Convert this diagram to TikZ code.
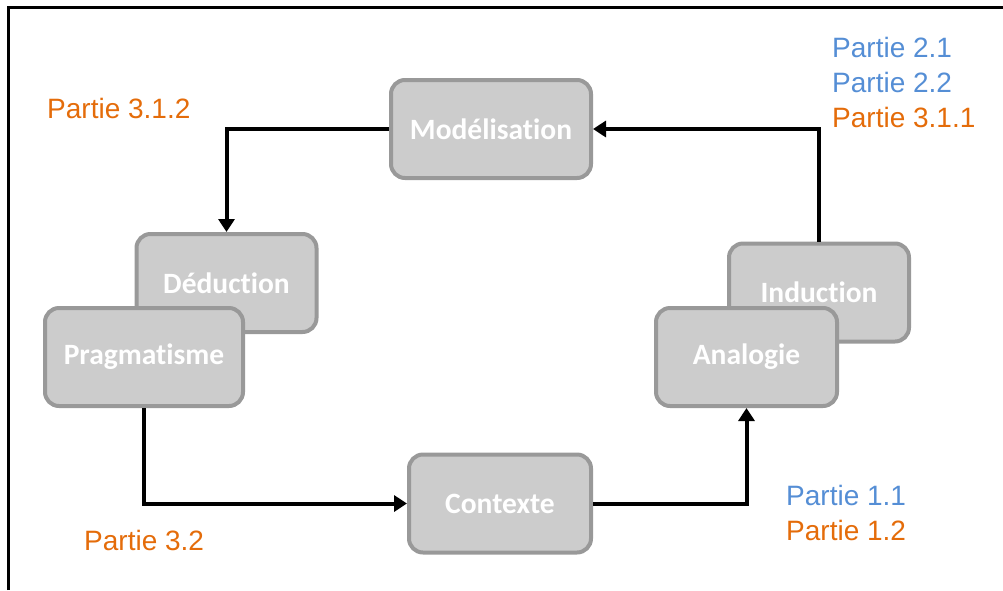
\documentclass[tikz,border=0pt]{standalone}
\usepackage{fontspec}
\setmainfont{Liberation Sans}
\newfontfamily\boitefont[Ligatures=NoCommon]{Carlito}
\usetikzlibrary{arrows.meta}
\definecolor{bleupartie}{HTML}{558ED5}
\definecolor{orangepartie}{HTML}{E46C0A}
\definecolor{fondboite}{HTML}{CCCCCC}
\definecolor{bordboite}{HTML}{999999}
\tikzset{
  etape/.style={draw=bordboite, line width=4pt, fill=fondboite, rounded corners=14pt,
    minimum height=98pt, text=white, font=\boitefont\bfseries\fontsize{29.5}{32}\selectfont},
  lien/.style={line width=4pt, -{Triangle[length=13pt,width=16pt]}},
  partie/.style={anchor=west, inner sep=0pt, align=left, font=\fontsize{28}{35}\selectfont}
}
\begin{document}
\begin{tikzpicture}[x=1pt,y=-1pt]
        \useasboundingbox (0,0) rectangle (1003,590);
        % cadre
        \draw[line width=3pt] (8,590) -- (8,7) -- (1003,7);
        % boites
        \node[etape, minimum width=200pt] (mod) at (491,129) {Modélisation};
        \node[etape, minimum width=180pt] (ded) at (226.5,283) {Déduction};
        \node[etape, minimum width=198pt] (prag) at (144,357) {Pragmatisme};
        \node[etape, minimum width=180pt] (ind) at (819,292.5) {Induction};
        \node[etape, minimum width=181pt] (ana) at (746.5,357) {Analogie};
        \node[etape, minimum width=182pt] (ctx) at (500,503.5) {Contexte};
        % fleches
        \draw[lien] (mod.west) -| (ded.north);
        \draw[lien] (ind.north) |- (mod.east);
        \draw[lien] (prag.south) |- (ctx.west);
        \draw[lien] (ctx.east) -| (ana.south);
        % parties
        \node[partie, text=orangepartie] (p312) at (47,108) {Partie 3.1.2};
        \node[partie] (p2) at (832,82) {\textcolor{bleupartie}{Partie 2.1}\\\textcolor{bleupartie}{Partie 2.2}\\\textcolor{orangepartie}{Partie 3.1.1}};
        \node[partie, text=orangepartie] (p32) at (84,540) {Partie 3.2};
        \node[partie] (p1) at (786,512.5) {\textcolor{bleupartie}{Partie 1.1}\\\textcolor{orangepartie}{Partie 1.2}};
\end{tikzpicture}
\end{document}
